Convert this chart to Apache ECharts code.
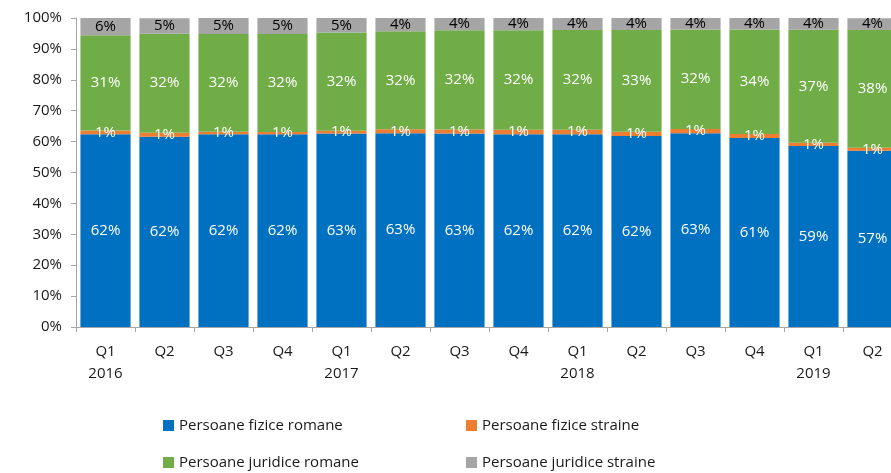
<!DOCTYPE html>
<html>
<head>
<meta charset="utf-8">
<script src="https://cdn.jsdelivr.net/npm/echarts@6/dist/echarts.min.js"></script>
<style>
  html, body { margin: 0; padding: 0; background: #fff; overflow: hidden; }
  #main { width: 910px; height: 473px; }
</style>
</head>
<body>
<div id="main"></div>
<script>
// categories (quarter + year under Q1)
var categories = ['Q1\n2016', 'Q2', 'Q3', 'Q4', 'Q1\n2017', 'Q2', 'Q3', 'Q4',
  'Q1\n2018', 'Q2', 'Q3', 'Q4', 'Q1\n2019', 'Q2'];

// shares in %
var fiziceRomane    = [62.4, 61.6, 62.4, 62.4, 62.6, 62.7, 62.6, 62.4, 62.4, 61.8, 62.7, 61.2, 58.6, 57.0];
var fiziceStraine   = [1.2, 1.3, 0.8, 0.7, 0.9, 1.3, 1.3, 1.4, 1.4, 1.4, 1.4, 1.3, 1.0, 1.0];
var juridiceRomane  = [30.8, 32.0, 31.6, 31.7, 31.8, 31.7, 32.1, 32.2, 32.3, 32.9, 32.2, 33.8, 36.6, 38.1];
var juridiceStraine = [5.6, 5.0, 5.2, 5.2, 4.7, 4.3, 4.0, 4.0, 3.9, 3.9, 3.7, 3.7, 3.8, 3.8];

var yTicks = { min: 0, max: 100, step: 10 };

var font = 'Open Sans';
var txt = '#1a1a1a';

function pct(p) { return Math.round(p.value) + '%'; }

function mkSeries(name, data, color, labelColor) {
  return {
    name: name,
    type: 'bar',
    stack: 'total',
    barCategoryGap: '15%',
    data: data,
    itemStyle: { color: color },
    label: {
      show: true,
      position: 'inside',
      formatter: pct,
      color: labelColor,
      fontFamily: font,
      fontSize: 15
    }
  };
}

// canvas is a bit wider than the window so the last bar gets cut off
var myChart = echarts.init(document.getElementById('main'));

var legendCommon = {
  orient: 'vertical',
  top: 418,
  padding: 0,
  itemWidth: 11, itemHeight: 11, itemGap: 22,
  icon: 'rect',
  textStyle: { fontFamily: font, fontSize: 15, color: txt }
};

var option = {
  animation: false,
  grid: { left: 76, top: 18, right: 8, bottom: 146, containLabel: false },
  legend: [
    Object.assign({}, legendCommon, {
      left: 163,
      data: ['Persoane fizice romane', 'Persoane juridice romane']
    }),
    Object.assign({}, legendCommon, {
      left: 466,
      data: ['Persoane fizice straine', 'Persoane juridice straine']
    })
  ],
  xAxis: {
    type: 'category',
    data: categories,
    axisLine: { lineStyle: { color: '#a6a6a6' } },
    axisTick: { show: true, length: 5, lineStyle: { color: '#a6a6a6' } },
    axisLabel: { fontFamily: font, fontSize: 15, color: txt, lineHeight: 22, margin: 14 }
  },
  yAxis: {
    type: 'value',
    min: yTicks.min, max: yTicks.max, interval: yTicks.step,
    splitLine: { show: false },
    axisLine: { show: true, lineStyle: { color: '#a6a6a6' } },
    axisTick: { show: true, length: 5, lineStyle: { color: '#a6a6a6' } },
    axisLabel: { formatter: '{value}%', fontFamily: font, fontSize: 15, color: txt, margin: 14 }
  },
  series: [
    mkSeries('Persoane fizice romane', fiziceRomane, '#0070c0', '#ffffff'),
    mkSeries('Persoane fizice straine', fiziceStraine, '#ed7d31', '#ffffff'),
    mkSeries('Persoane juridice romane', juridiceRomane, '#70ad47', '#ffffff'),
    mkSeries('Persoane juridice straine', juridiceStraine, '#a5a5a5', '#000000')
  ]
};

myChart.setOption(option);
</script>
</body>
</html>
